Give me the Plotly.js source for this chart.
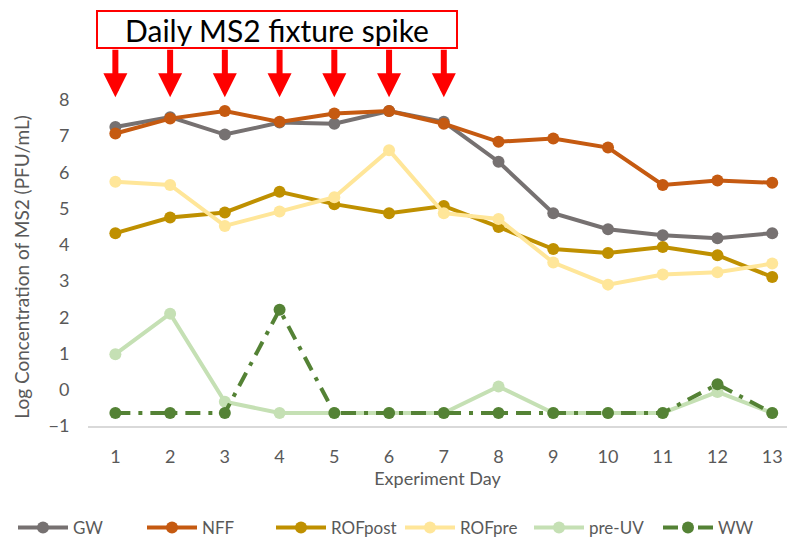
<!DOCTYPE html>
<html>
<head>
<meta charset="utf-8">
<script src="https://cdn.plot.ly/plotly-3.0.1.min.js"></script>
<style>html,body{margin:0;padding:0;background:#fff;}#chart{width:787px;height:546px;}</style>
</head>
<body>
<div id="chart"></div>
<script>
const days = [1,2,3,4,5,6,7,8,9,10,11,12,13];
const GW      = [7.25,7.52,7.04,7.37,7.34,7.69,7.39,6.29,4.87,4.43,4.26,4.18,4.32];
const NFF     = [7.07,7.48,7.69,7.39,7.62,7.69,7.34,6.84,6.93,6.68,5.65,5.77,5.71];
const ROFpost = [4.32,4.75,4.89,5.46,5.12,4.87,5.07,4.49,3.88,3.77,3.94,3.71,3.11];
const ROFpre  = [5.74,5.65,4.52,4.92,5.31,6.61,4.87,4.71,3.51,2.90,3.18,3.24,3.48];
const preUV   = [0.98,2.10,-0.33,-0.64,-0.64,-0.64,-0.64,0.09,-0.64,-0.64,-0.64,-0.06,-0.64];
const WW      = [-0.64,-0.64,-0.64,2.21,-0.64,-0.64,-0.64,-0.64,-0.64,-0.64,-0.64,0.15,-0.64];
const spikeDays = [1,2,3,4,5,6,7];
const titleText = "Daily MS2 fixture spike";

const FONT = "Lato, 'Open Sans', sans-serif";
function series(name, y, color, dash) {
  return {
    x: days, y: y, name: name, type: 'scatter', mode: 'lines+markers',
    line: {color: color, width: 4, dash: dash || 'solid'},
    marker: {color: color, size: 12},
    cliponaxis: false
  };
}
const traces = [
  series('GW', GW, '#767171'),
  series('NFF', NFF, '#C55A11'),
  series('ROFpost', ROFpost, '#BF9000'),
  series('ROFpre', ROFpre, '#FFE699'),
  series('pre-UV', preUV, '#C5E0B4'),
  series('WW', WW, '#548235', '15px,8px,4px,8px')
];

const annotations = spikeDays.map(d => ({
  x: d, y: 8.07, xref: 'x', yref: 'y', text: '', showarrow: true,
  ax: 0, ay: -49, arrowhead: 2, arrowwidth: 6, arrowsize: 0.8, arrowcolor: '#FF0000'
}));
annotations.push({
  xref: 'paper', yref: 'paper', x: (277-88)/699, y: 1 + (78-29)/349.4,
  xanchor: 'center', yanchor: 'middle', showarrow: false,
  text: titleText, font: {family: FONT, size: 30, color: '#000'},
  bordercolor: '#FF0000', borderwidth: 2, width: 356, height: 33, bgcolor: '#fff'
});
annotations.push({
  xref: 'paper', yref: 'paper', x: (22-88)/699, y: (427-267)/349.4,
  xanchor: 'center', yanchor: 'middle', showarrow: false, textangle: -90,
  text: 'Log Concentration of MS2 (PFU/mL)', font: {family: FONT, size: 19, color: '#595959'}
});

const layout = {
  width: 787, height: 546,
  margin: {l: 88, r: 0, t: 78, b: 119},
  paper_bgcolor: '#fff', plot_bgcolor: '#fff',
  font: {family: FONT, color: '#595959', size: 18},
  showlegend: true,
  legend: {orientation: 'h', x: (52-88)/699, xanchor: 'left', y: (427-530)/349.4, yanchor: 'middle',
           font: {family: FONT, size: 17, color: '#595959'}, itemwidth: 50,
           entrywidth: 64, entrywidthmode: 'pixels', tracegroupgap: 0},
  xaxis: {
    range: [0.5, 13.27], tickvals: days, ticktext: days.map(String),
    showgrid: false, zeroline: false, showline: true, linecolor: '#D9D9D9', linewidth: 1.5,
    ticks: 'outside', ticklen: 14, tickcolor: 'rgba(0,0,0,0)',
    tickfont: {family: FONT, size: 18, color: '#595959'},
    title: {text: 'Experiment Day', font: {family: FONT, size: 18, color: '#595959'}, standoff: 0}
  },
  yaxis: {
    range: [-1, 8.6], tickvals: [-1,0,1,2,3,4,5,6,7,8],
    showgrid: false, zeroline: false, showline: false,
    ticks: 'outside', ticklen: 14, tickcolor: 'rgba(0,0,0,0)',
    tickfont: {family: FONT, size: 18, color: '#595959'}
  },
  annotations: annotations
};
Plotly.newPlot('chart', traces, layout, {displayModeBar: false, staticPlot: true});
</script>
</body>
</html>
